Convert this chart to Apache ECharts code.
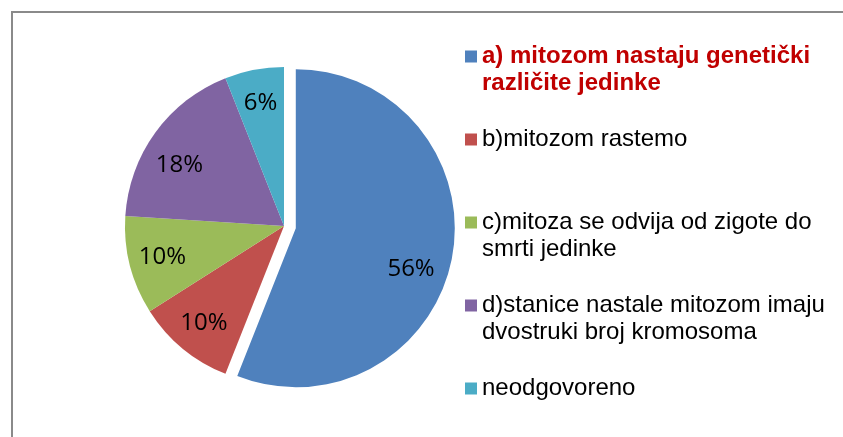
<!DOCTYPE html>
<html>
<head>
    <meta charset="utf-8" />
    <title>Mitoza</title>
    <script src="https://cdn.jsdelivr.net/npm/echarts@6/dist/echarts.min.js"></script>
    <style>
        html, body { margin: 0; padding: 0; background: #fff; }
        #chart { width: 843px; height: 437px; }
    </style>
</head>
<body>
    <div id="chart"></div>
    <script type="text/javascript">
        // answers, in the order they go round the pie (clockwise from 12 o'clock)
        var answers = [
            'a) mitozom nastaju genetički\nrazličite jedinke',
            'b)mitozom rastemo',
            'c)mitoza se odvija od zigote do\nsmrti jedinke',
            'd)stanice nastale mitozom imaju\ndvostruki broj kromosoma',
            'neodgovoreno'
        ];
        var percents = [56, 10, 10, 18, 6];
        var colors = ['#4F81BD', '#C0504D', '#9BBB59', '#8064A2', '#4BACC6'];
        // small nudges of the percentage labels, like Excel placed them
        var labelNudge = [[-8, 17], [0, 0], [0, 0], [-3, 13], [0, 0]];

        var chart = echarts.init(document.getElementById('chart'));

        var pieData = answers.map(function (name, i) {
            return { name: name, value: percents[i], selected: i === 0 };
        });

        var legendData = answers.map(function (name, i) {
            if (i === 0) {
                return { name: name, textStyle: { color: '#C00000', fontWeight: 'bold' } };
            }
            return { name: name };
        });

        var option = {
            animation: false,
            color: colors,
            graphic: [{
                type: 'rect',
                shape: { x: 12, y: 12, width: 900, height: 500 },
                style: { fill: 'none', stroke: '#8a8a8a', lineWidth: 2 },
                silent: true
            }],
            legend: {
                orient: 'vertical',
                left: 465,
                top: 16,
                padding: 0,
                itemGap: 2,
                itemWidth: 12,
                itemHeight: 12,
                icon: 'rect',
                selectedMode: false,
                data: legendData,
                // pad every entry to three lines so the marker sits on the first text line
                formatter: function (name) {
                    return '\n' + name + (name.indexOf('\n') >= 0 ? '' : '\n');
                },
                textStyle: {
                    fontFamily: 'Liberation Sans',
                    fontSize: 24,
                    lineHeight: 27,
                    color: '#000'
                }
            },
            series: [
                {
                    type: 'pie',
                    center: [284, 226],
                    radius: 159,
                    startAngle: 90,
                    clockwise: true,
                    selectedMode: 'single',
                    selectedOffset: 12,
                    silent: true,
                    label: { show: false },
                    labelLine: { show: false },
                    itemStyle: { borderWidth: 0 },
                    select: { itemStyle: { borderWidth: 0 } },
                    emphasis: { disabled: true },
                    data: pieData
                },
                {
                    // transparent ring only used to place the percentage labels
                    type: 'pie',
                    center: [284, 226],
                    radius: [86, 159],
                    startAngle: 90,
                    clockwise: true,
                    selectedMode: 'single',
                    selectedOffset: 12,
                    silent: true,
                    itemStyle: { color: 'rgba(0,0,0,0)', borderWidth: 0 },
                    select: { itemStyle: { color: 'rgba(0,0,0,0)', borderWidth: 0 } },
                    emphasis: { disabled: true },
                    labelLine: { show: false },
                    label: {
                        show: true,
                        position: 'inside',
                        formatter: '{c}%',
                        fontFamily: 'Open Sans',
                        fontSize: 24,
                        color: '#000'
                    },
                    labelLayout: function (params) {
                        var n = labelNudge[params.dataIndex];
                        return { dx: n[0], dy: n[1] };
                    },
                    data: pieData
                }
            ]
        };
        chart.setOption(option);
    </script>
</body>
</html>
